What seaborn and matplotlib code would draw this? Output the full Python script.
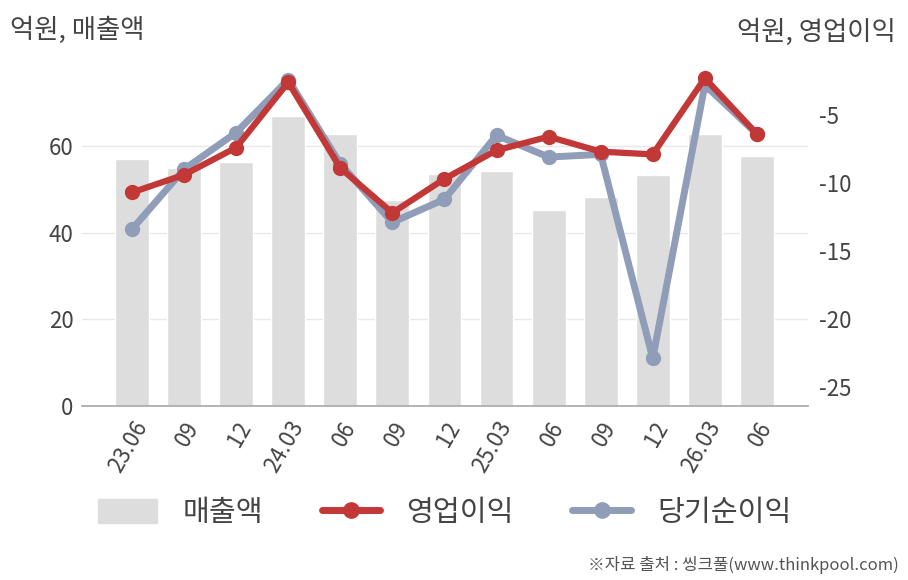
import numpy as np
import pandas as pd
import matplotlib
matplotlib.use('Agg')
import matplotlib.pyplot as plt
import seaborn as sns
from matplotlib.patches import Patch
from matplotlib.lines import Line2D

periods = ['23.06', '23.09', '23.12', '24.03', '24.06', '24.09', '24.12',
           '25.03', '25.06', '25.09', '25.12', '26.03', '26.06']
tick_labels = ['23.06', '09', '12', '24.03', '06', '09', '12',
               '25.03', '06', '09', '12', '26.03', '06']
sales = [57.0, 55.0, 56.4, 67.0, 62.9, 47.6, 53.6, 54.4, 45.4, 48.4, 53.3, 62.8, 57.8]
op_profit = [-10.7, -9.4, -7.4, -2.6, -8.9, -12.2, -9.7, -7.6, -6.6, -7.7, -7.9, -2.3, -6.4]
net_profit = [-13.4, -9.0, -6.3, -2.4, -8.6, -12.9, -11.2, -6.5, -8.1, -7.9, -22.9, -2.8, -6.4]

bar_color = '#dddddd'
red = '#c23836'
blue = '#8f9db8'
text_color = '#444444'

sns.set_theme(style='white')
plt.rcParams['font.family'] = ['Noto Sans CJK KR', 'DejaVu Sans']
plt.rcParams['axes.unicode_minus'] = False

df = pd.DataFrame({'x': np.arange(len(periods)), 'period': periods,
                   'sales': sales, 'op': op_profit, 'net': net_profit})

fig = plt.figure(figsize=(9.08, 5.8), dpi=100)
ax = fig.add_axes([0.0903, 0.30, 0.7995, 0.5966])
ax2 = ax.twinx()

sns.barplot(data=df, x='x', y='sales', color=bar_color, width=0.65,
            saturation=1, ax=ax, zorder=2)
sns.lineplot(data=df, x='x', y='net', color=blue, lw=5, marker='o',
             markersize=11, markeredgewidth=0, ax=ax2)
sns.lineplot(data=df, x='x', y='op', color=red, lw=4.5, marker='o',
             markersize=11, markeredgewidth=0, ax=ax2)

ax.set_xlim(-0.96, 12.98)
ax.set_ylim(0, 80)
ax2.set_ylim(-26.4, -0.96)
ax.set_yticks([0, 20, 40, 60])
ax2.set_yticks([-5, -10, -15, -20, -25])
ax.yaxis.grid(True, color='#e8e8e8', lw=1)
ax.set_axisbelow(True)

ax.set_xticks(df['x'])
ax.set_xticklabels(tick_labels, rotation=60, ha='right', rotation_mode='anchor')
ax.set_xlabel('')
ax.set_ylabel('')
ax2.set_ylabel('')
for a in (ax, ax2):
    a.tick_params(length=0, labelsize=16, labelcolor=text_color)
    for s in a.spines.values():
        s.set_visible(False)
ax.spines['bottom'].set_visible(True)
ax.spines['bottom'].set_color('#aaaaaa')
ax.tick_params(axis='x', pad=8)
ax.tick_params(axis='y', pad=6)
ax2.tick_params(axis='y', pad=8)

fig.text(0.011, 0.948, '억원, 매출액', fontsize=19, color=text_color, va='center')
fig.text(0.987, 0.945, '억원, 영업이익', fontsize=19, color=text_color, va='center', ha='right')
fig.text(0.99, 0.025, '※자료 출처 : 씽크풀(www.thinkpool.com)', fontsize=12,
         color='#555555', ha='right', va='center')

handles = [Patch(color=bar_color),
           Line2D([], [], color=red, lw=5, marker='o', markersize=11),
           Line2D([], [], color=blue, lw=5, marker='o', markersize=11)]
fig.legend(handles, ['매출액', '영업이익', '당기순이익'], loc='center',
           bbox_to_anchor=(0.49, 0.115), ncol=3, frameon=False, fontsize=21,
           handlelength=2.0, handleheight=0.9, columnspacing=2.0, handletextpad=0.9,
           labelcolor=text_color)

fig.savefig('out.png', dpi=100)
